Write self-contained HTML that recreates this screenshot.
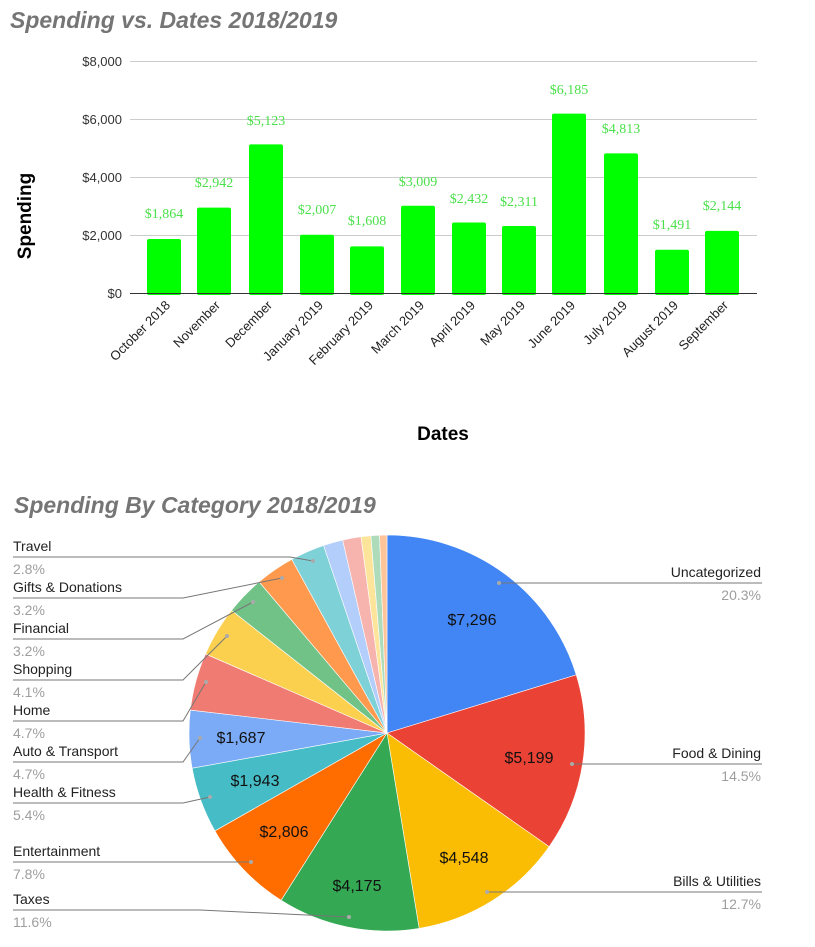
<!DOCTYPE html>
<html><head><meta charset="utf-8"><style>
body{margin:0;background:#fff;}
svg{display:block;font-family:"Liberation Sans",sans-serif;}
</style></head><body>
<svg id="s" width="815" height="947" viewBox="0 0 815 947">
<text x="10" y="28" font-size="23" font-weight="bold" font-style="italic" fill="#757575">Spending vs. Dates 2018/2019</text>
<g stroke="#ccc" stroke-width="1">
<line x1="130" y1="61.5" x2="757" y2="61.5"/><line x1="130" y1="119.5" x2="757" y2="119.5"/>
<line x1="130" y1="177.5" x2="757" y2="177.5"/><line x1="130" y1="235.5" x2="757" y2="235.5"/>
</g>
<g font-size="13" fill="#333" text-anchor="end">
<text x="122" y="66">$8,000</text><text x="122" y="124">$6,000</text><text x="122" y="182">$4,000</text><text x="122" y="240">$2,000</text><text x="122" y="298">$0</text>
</g>
<text transform="translate(31,216) rotate(-90)" font-size="19" font-weight="bold" text-anchor="middle" fill="#000">Spending</text>
<text x="443" y="440" font-size="19" font-weight="bold" text-anchor="middle" fill="#000">Dates</text>
<g id="bars" fill="#00ff00"></g>
<line x1="130" y1="293.5" x2="757" y2="293.5" stroke="#333" stroke-width="1"/>
<g font-family="Liberation Serif,serif" font-size="14" fill="#4be04b" text-anchor="middle">
<text x="164" y="218">$1,864</text><text x="214" y="187">$2,942</text><text x="266" y="125">$5,123</text>
<text x="317" y="214">$2,007</text><text x="367" y="225">$1,608</text><text x="418" y="186">$3,009</text>
<text x="469" y="203">$2,432</text><text x="519" y="206">$2,311</text><text x="569" y="94">$6,185</text>
<text x="621" y="133">$4,813</text><text x="672" y="229">$1,491</text><text x="722" y="210">$2,144</text>
</g>
<g font-size="13" fill="#222" text-anchor="end">
<text transform="translate(171,306) rotate(-45)">October 2018</text>
<text transform="translate(221,306) rotate(-45)">November</text>
<text transform="translate(273,306) rotate(-45)">December</text>
<text transform="translate(324,306) rotate(-45)">January 2019</text>
<text transform="translate(374,306) rotate(-45)">February 2019</text>
<text transform="translate(425,306) rotate(-45)">March 2019</text>
<text transform="translate(476,306) rotate(-45)">April 2019</text>
<text transform="translate(526,306) rotate(-45)">May 2019</text>
<text transform="translate(576,306) rotate(-45)">June 2019</text>
<text transform="translate(628,306) rotate(-45)">July 2019</text>
<text transform="translate(679,306) rotate(-45)">August 2019</text>
<text transform="translate(729,306) rotate(-45)">September</text>
</g>
<text x="14" y="513" font-size="23" font-weight="bold" font-style="italic" fill="#757575">Spending By Category 2018/2019</text>
<g id="pie"></g>
<g font-size="16" fill="#111" text-anchor="middle">
<text x="472" y="625">$7,296</text><text x="529" y="763">$5,199</text><text x="464" y="863">$4,548</text>
<text x="357" y="891">$4,175</text><text x="284" y="837">$2,806</text><text x="255" y="786">$1,943</text><text x="241" y="743">$1,687</text>
</g>
<g stroke="#777" stroke-width="1" fill="none">
<polyline points="13,557 290,557 313,561"/>
<polyline points="13,598 183,598 282,578"/>
<polyline points="13,639 183,639 253,602"/>
<polyline points="13,680 183,680 227,636"/>
<polyline points="13,721 183,721 206,682"/>
<polyline points="13,762 183,762 200,738"/>
<polyline points="13,803 183,803 210,797"/>
<polyline points="13,862 251,862"/>
<polyline points="13,910 200,910 349,917"/>
<polyline points="499,583 762,583"/>
<polyline points="572,764 762,764"/>
<polyline points="487,892 762,892"/>
</g>
<g fill="#aaa">
<circle cx="313" cy="561" r="2"/><circle cx="282" cy="578" r="2"/><circle cx="253" cy="602" r="2"/><circle cx="227" cy="636" r="2"/>
<circle cx="206" cy="682" r="2"/><circle cx="200" cy="738" r="2"/><circle cx="210" cy="797" r="2"/><circle cx="251" cy="862" r="2"/>
<circle cx="349" cy="917" r="2"/><circle cx="499" cy="583" r="2"/><circle cx="572" cy="764" r="2"/><circle cx="487" cy="892" r="2"/>
</g>
<g font-size="14" fill="#222">
<text x="13" y="551">Travel</text><text x="13" y="592">Gifts &amp; Donations</text><text x="13" y="633">Financial</text>
<text x="13" y="674">Shopping</text><text x="13" y="715">Home</text><text x="13" y="756">Auto &amp; Transport</text>
<text x="13" y="797">Health &amp; Fitness</text><text x="13" y="856">Entertainment</text><text x="13" y="904">Taxes</text>
</g>
<g font-size="14" fill="#9e9e9e">
<text x="13" y="574">2.8%</text><text x="13" y="615">3.2%</text><text x="13" y="656">3.2%</text>
<text x="13" y="697">4.1%</text><text x="13" y="738">4.7%</text><text x="13" y="779">4.7%</text>
<text x="13" y="820">5.4%</text><text x="13" y="879">7.8%</text><text x="13" y="927">11.6%</text>
</g>
<g font-size="14" text-anchor="end">
<text x="761" y="577" fill="#222">Uncategorized</text><text x="761" y="600" fill="#9e9e9e">20.3%</text>
<text x="761" y="758" fill="#222">Food &amp; Dining</text><text x="761" y="781" fill="#9e9e9e">14.5%</text>
<text x="761" y="886" fill="#222">Bills &amp; Utilities</text><text x="761" y="909" fill="#9e9e9e">12.7%</text>
</g>
</svg>
<script>
var ns="http://www.w3.org/2000/svg";
var vals=[1864,2942,5123,2007,1608,3009,2432,2311,6185,4813,1491,2144];
var cx=[164,214,266,317,367,418,469,519,569,621,672,722];
var b=document.getElementById("bars");
vals.forEach(function(v,i){var r=document.createElementNS(ns,"rect");var h=v*0.029;
r.setAttribute("x",cx[i]-17);r.setAttribute("y",293-h);r.setAttribute("width",34);r.setAttribute("height",h+2);r.setAttribute("rx",2);b.appendChild(r);});
var p=[20.3,14.5,12.7,11.6,7.8,5.4,4.7,4.7,4.1,3.2,3.2,2.8,1.6,1.5,0.8,0.7,0.6];
var c=["#4285f4","#ea4335","#fbbc04","#34a853","#ff6d01","#46bdc6","#7baaf7","#f07b72","#fcd04f","#71c287","#ff994d","#7ed1d7","#b3cefb","#f7b4ae","#fde49b","#aedcba","#ffc599"];
var tot=p.reduce(function(a,b){return a+b},0);
var X=387,Y=733,R=198,a=0,g=document.getElementById("pie");
p.forEach(function(v,i){var a2=a+v/tot*2*Math.PI;
var x1=X+R*Math.sin(a),y1=Y-R*Math.cos(a),x2=X+R*Math.sin(a2),y2=Y-R*Math.cos(a2);
var e=document.createElementNS(ns,"path");
e.setAttribute("d","M"+X+","+Y+"L"+x1+","+y1+"A"+R+","+R+" 0 "+(a2-a>Math.PI?1:0)+" 1 "+x2+","+y2+"Z");
e.setAttribute("fill",c[i]);e.setAttribute("stroke","#fff");e.setAttribute("stroke-width","0.6");g.appendChild(e);a=a2;});
</script>
</body></html>
